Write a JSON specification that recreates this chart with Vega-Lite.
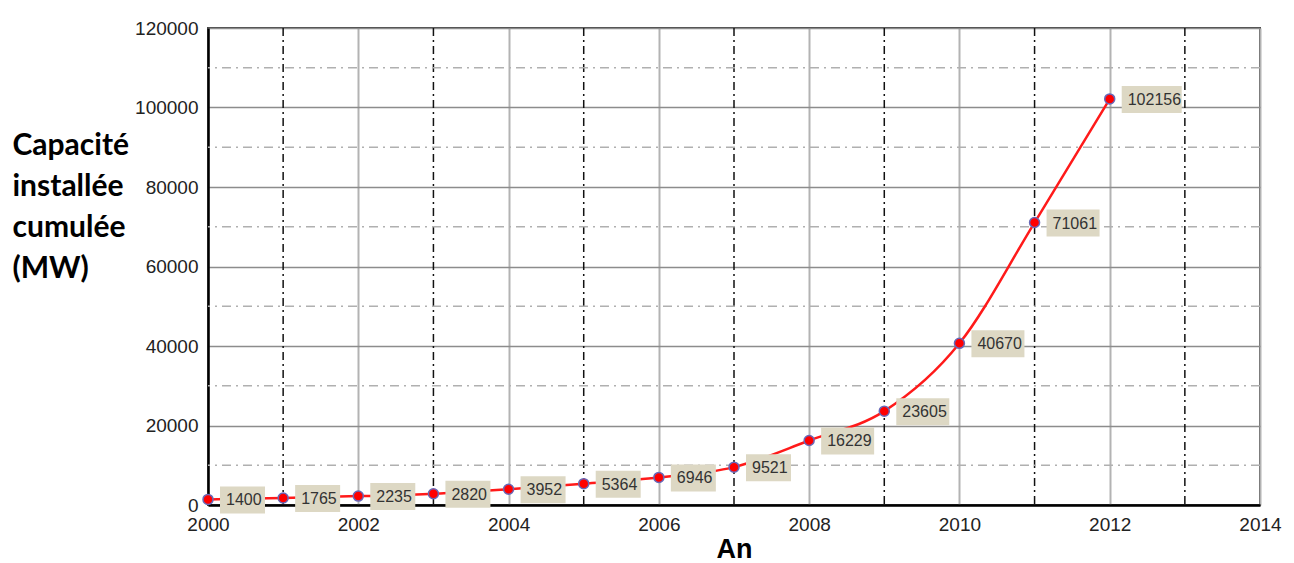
{
  "$schema": "https://vega.github.io/schema/vega-lite/v6.json",
  "width": 1052,
  "height": 477,
  "autosize": {"type": "none"},
  "padding": {"left": 208, "top": 28, "right": 34, "bottom": 58},
  "background": "white",
  "datasets": {
    "capacity": [
      {"year": 2000, "value": 1400},
      {"year": 2001, "value": 1765},
      {"year": 2002, "value": 2235},
      {"year": 2003, "value": 2820},
      {"year": 2004, "value": 3952},
      {"year": 2005, "value": 5364},
      {"year": 2006, "value": 6946},
      {"year": 2007, "value": 9521},
      {"year": 2008, "value": 16229},
      {"year": 2009, "value": 23605},
      {"year": 2010, "value": 40670},
      {"year": 2011, "value": 71061},
      {"year": 2012, "value": 102156}
    ],
    "oddYears": [
      {"year": 2001}, {"year": 2003}, {"year": 2005}, {"year": 2007},
      {"year": 2009}, {"year": 2011}, {"year": 2013}
    ],
    "minorValues": [
      {"value": 10000}, {"value": 30000}, {"value": 50000},
      {"value": 70000}, {"value": 90000}, {"value": 110000}
    ]
  },
  "encoding": {
    "x": {
      "field": "year",
      "type": "quantitative",
      "scale": {"domain": [2000, 2014], "nice": false, "zero": false},
      "axis": {
        "values": [2000, 2002, 2004, 2006, 2008, 2010, 2012, 2014],
        "format": "d",
        "title": "An",
        "titleFont": "Liberation Sans",
        "titleFontSize": 27,
        "titleFontWeight": "bold",
        "titleColor": "black",
        "titleBaseline": "middle",
        "titleY": 44,
        "labelFont": "Liberation Sans",
        "labelFontSize": 19,
        "labelColor": "#222",
        "labelPadding": 10,
        "labelFlush": false,
        "ticks": false,
        "domainColor": "black",
        "domainWidth": 2.5,
        "grid": true,
        "gridColor": "#b3b3b3",
        "gridWidth": 2
      }
    },
    "y": {
      "field": "value",
      "type": "quantitative",
      "scale": {"domain": [0, 120000], "nice": false},
      "axis": {
        "values": [0, 20000, 40000, 60000, 80000, 100000, 120000],
        "format": "d",
        "title": ["Capacité", "installée", "cumulée", "(MW)"],
        "titleFont": "Lato",
        "titleFontSize": 30,
        "titleFontWeight": "bold",
        "titleColor": "black",
        "titleAngle": 0,
        "titleAlign": "left",
        "titleBaseline": "top",
        "titleLineHeight": 41,
        "titleX": -196,
        "titleY": 102,
        "labelFont": "Liberation Sans",
        "labelFontSize": 19,
        "labelColor": "#222",
        "labelPadding": 10,
        "labelFlush": false,
        "ticks": false,
        "domainColor": "black",
        "domainWidth": 2.5,
        "grid": true,
        "gridColor": "#8c8c8c",
        "gridWidth": 1.5
      }
    }
  },
  "layer": [
    {
      "data": {"name": "oddYears"},
      "mark": {"type": "rule", "color": "#111", "strokeWidth": 1.5, "strokeDash": [8, 4, 2, 4]},
      "encoding": {"x": {"field": "year", "type": "quantitative"}, "y": null}
    },
    {
      "data": {"name": "minorValues"},
      "mark": {"type": "rule", "color": "#b0b0b0", "strokeWidth": 1.3, "strokeDash": [9, 5, 2, 5]},
      "encoding": {"y": {"field": "value", "type": "quantitative"}, "x": null}
    },
    {
      "data": {"name": "capacity"},
      "mark": {"type": "line", "color": "#ff1a1a", "strokeWidth": 2.5, "interpolate": "monotone"}
    },
    {
      "data": {"name": "capacity"},
      "transform": [{"filter": "datum.value < 10000"}],
      "mark": {"type": "rect", "color": "#ddd8c4", "xOffset": 12, "x2Offset": 57, "yOffset": -13, "y2Offset": 14},
      "encoding": {"x2": {"field": "year"}, "y2": {"field": "value"}}
    },
    {
      "data": {"name": "capacity"},
      "transform": [{"filter": "datum.value >= 10000 && datum.value < 100000"}],
      "mark": {"type": "rect", "color": "#ddd8c4", "xOffset": 12, "x2Offset": 65, "yOffset": -13, "y2Offset": 14},
      "encoding": {"x2": {"field": "year"}, "y2": {"field": "value"}}
    },
    {
      "data": {"name": "capacity"},
      "transform": [{"filter": "datum.value >= 100000"}],
      "mark": {"type": "rect", "color": "#ddd8c4", "xOffset": 12, "x2Offset": 72, "yOffset": -13, "y2Offset": 14},
      "encoding": {"x2": {"field": "year"}, "y2": {"field": "value"}}
    },
    {
      "data": {"name": "capacity"},
      "mark": {"type": "text", "align": "left", "baseline": "middle", "dx": 18, "dy": 1, "font": "Liberation Sans", "fontSize": 16, "color": "#333"},
      "encoding": {"text": {"field": "value", "type": "quantitative", "format": "d"}}
    },
    {
      "data": {"name": "capacity"},
      "mark": {"type": "point", "filled": true, "fill": "#ff0000", "stroke": "#6868b8", "strokeWidth": 1.5, "size": 100, "opacity": 1}
    }
  ],
  "config": {
    "view": {"stroke": "#444", "strokeWidth": 2}
  }
}
